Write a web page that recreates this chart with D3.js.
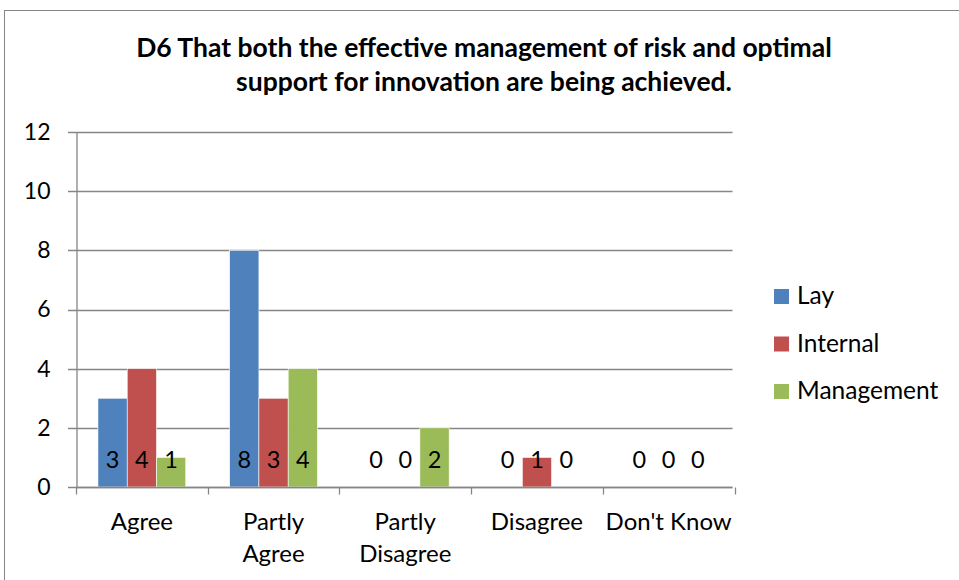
<!DOCTYPE html>
<html><head><meta charset="utf-8">
<script src="https://cdn.jsdelivr.net/npm/d3@7"></script>
<style>body{margin:0;background:#fff;} svg{display:block;}</style>
</head><body>
<svg id="c" width="959" height="580"></svg>
<script>
const categories = ["Agree", "Partly Agree", "Partly Disagree", "Disagree", "Don't Know"];
const categoryLines = [["Agree"], ["Partly", "Agree"], ["Partly", "Disagree"], ["Disagree"], ["Don't Know"]];
const seriesNames = ["Lay", "Internal", "Management"];
const lay = [3, 8, 0, 0, 0];
const internal = [4, 3, 0, 1, 0];
const management = [1, 4, 2, 0, 0];
const seriesColors = ["#4F81BD", "#C0504D", "#9BBB59"];
const yTicks = [0, 2, 4, 6, 8, 10, 12];
const titleLines = ["D6 That both the effective management of risk and optimal", "support for innovation are being achieved."];

(function () {
const series = [lay, internal, management];
const font = "Lato, 'Open Sans', sans-serif";
const svg = d3.select("#c");

// outer frame
svg.append("rect").attr("x", 4.5).attr("y", 10.5).attr("width", 1000).attr("height", 600)
  .attr("fill", "none").attr("stroke", "#868686").attr("stroke-width", 1);

const pLeft = 76, pRight = 734.5, pTop = 132, pBottom = 487;
const x = d3.scaleBand().domain(categories).range([pLeft, pRight]).paddingInner(0).paddingOuter(0);
const y = d3.scaleLinear().domain([0, 12]).range([pBottom, pTop]);
const bw = x.bandwidth() / 4.5;
const xs = d3.scaleBand().domain(seriesNames).range([0, bw * 3]);

// gridlines
svg.append("g").selectAll("line").data(yTicks).join("line")
  .attr("x1", pLeft - 8).attr("x2", pRight - 2)
  .attr("y1", d => Math.round(y(d)) + 0.5).attr("y2", d => Math.round(y(d)) + 0.5)
  .attr("stroke", "#868686").attr("stroke-width", 1.3);

// bars
const groups = svg.append("g").selectAll("g").data(categories).join("g")
  .attr("transform", c => `translate(${x(c) + (x.bandwidth() - bw * 3) / 2},0)`);
groups.each(function(c, ci) {
  const g = d3.select(this);
  seriesNames.forEach((s, si) => {
    const v = series[si][ci];
    if (v > 0) {
      g.append("rect").attr("x", xs(s)).attr("width", xs.bandwidth())
        .attr("y", y(v)).attr("height", y(0) - y(v))
        .attr("fill", seriesColors[si]).attr("stroke", "#fff").attr("stroke-width", 0.6);
    }
  });
});
// data labels
groups.each(function(c, ci) {
  const g = d3.select(this);
  seriesNames.forEach((s, si) => {
    g.append("text").attr("x", xs(s) + xs.bandwidth() / 2).attr("y", y(0) - 19)
      .attr("text-anchor", "middle").attr("font-family", font).attr("font-size", 23.5)
      .attr("fill", "#000").text(series[si][ci]);
  });
});

// y axis
const yAxis = d3.axisLeft(y).tickValues(yTicks).tickSize(0).tickPadding(26);
const ya = svg.append("g").attr("transform", `translate(${pLeft + 0.5},0)`).call(yAxis);
ya.select(".domain").attr("stroke", "#868686").attr("stroke-width", 1.3);
ya.selectAll("text").attr("font-family", font).attr("font-size", 23).attr("fill", "#000");

// x axis
const xa = svg.append("g").attr("transform", `translate(0,${Math.round(y(0)) + 0.5})`);
xa.append("line").attr("x1", pLeft).attr("x2", pRight - 2).attr("stroke", "#868686").attr("stroke-width", 1.3);
const bounds = [pLeft].concat(categories.map(c => x(c) + x.bandwidth()));
xa.selectAll(".tk").data(bounds).join("line").attr("class", "tk")
  .attr("x1", d => Math.round(d) + 0.5).attr("x2", d => Math.round(d) + 0.5)
  .attr("y1", 0).attr("y2", 7).attr("stroke", "#868686").attr("stroke-width", 1.3);
categories.forEach((c, i) => {
  categoryLines[i].forEach((ln, li) => {
    xa.append("text").attr("x", x(c) + x.bandwidth() / 2).attr("y", 42 + li * 32)
      .attr("text-anchor", "middle").attr("font-family", font).attr("font-size", 24)
      .attr("fill", "#000").text(ln);
  });
});

// title
titleLines.forEach((t, i) => {
  svg.append("text").attr("x", 484).attr("y", 57 + i * 34).attr("text-anchor", "middle")
    .attr("font-family", font).attr("font-weight", "bold").attr("font-size", 26.5)
    .attr("fill", "#000").text(t);
});

// legend
const lg = svg.append("g");
seriesNames.forEach((s, i) => {
  const ly = 296 + i * 47.5;
  lg.append("rect").attr("x", 774).attr("y", ly - 7).attr("width", 15).attr("height", 15).attr("fill", seriesColors[i]);
  lg.append("text").attr("x", 797).attr("y", ly + 8).attr("font-family", font).attr("font-size", 24.5)
    .attr("fill", "#000").text(s);
});
})();
</script>
</body></html>
